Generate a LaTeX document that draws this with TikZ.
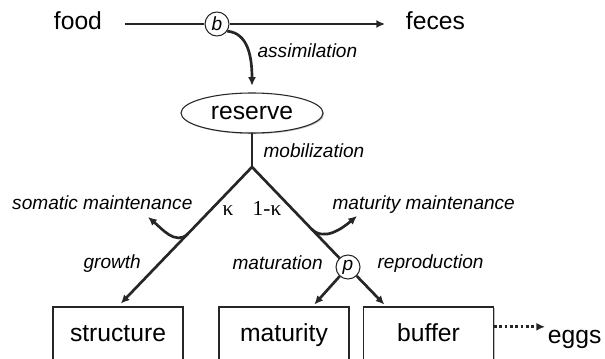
\documentclass[tikz,border=0pt]{standalone}
\usepackage{fontspec}
\setmainfont{Liberation Sans}
\newfontfamily\kapfont{Liberation Serif}
\usetikzlibrary{arrows.meta,shapes.geometric,shadows}

\begin{document}
\begin{tikzpicture}[
		x=0.75pt, y=0.75pt,
		word/.style={inner sep=2pt, font=\fontsize{18.5}{22}\selectfont},
		lab/.style={inner sep=1pt, font=\fontsize{14.3}{17}\selectfont\itshape},
		frac/.style={inner sep=1pt, font=\fontsize{16}{19}\kapfont},
		store/.style={rectangle, draw=black!85, line width=0.8pt, fill=white,
		minimum width=97.5pt, minimum height=42pt, text height=13.5pt, text depth=3.7pt,
		drop shadow={shadow xshift=0.8pt, shadow yshift=-0.8pt, fill=black!50},
		font=\fontsize{18.5}{22}\selectfont},
		pool/.style={ellipse, draw=black!85, line width=0.8pt, fill=white,
		inner sep=0pt, minimum width=106.5pt, minimum height=30pt,
		drop shadow={shadow xshift=0.8pt, shadow yshift=-0.8pt, fill=black!50},
		font=\fontsize{18.5}{22}\selectfont},
		switch/.style={circle, draw=black!85, line width=0.8pt, fill=white,
		inner sep=0pt, minimum size=18pt, font=\fontsize{14.3}{17}\selectfont\itshape},
		flow/.style={>={Latex[length=6.5pt,width=6pt]}, draw=black!85, line width=2pt, ->}
		]
		\useasboundingbox (0,0) rectangle (605,358);
		% input side
		\node[word, anchor=base west] (food) at (51,329) {food};
		\node[word, anchor=base west] (feces) at (403,329) {feces};
		\node[switch] (b) at (217,334) {b};
		\node[pool] (reserve) at (252,245) {reserve};
		\draw[flow, -, shorten <=15pt] (b -| food.east) -- (b.west);
		\draw[flow, shorten >=13.5pt] (b.east) -- (b -| feces.west);
		\draw[flow, shorten >=5pt] (b.-35) to[out=-5, in=90, out looseness=0.8,
			in looseness=1.4] (reserve.north);
		\node[lab, anchor=base west] (assim) at (256,301) {assimilation};
		% state variables
		\node[store] (structure) at (118,23) {structure};
		\node[store] (maturity) at (284,23) {maturity};
		\node[store] (buffer) at (428.5,23) {buffer};
		\node[word, anchor=base west] (eggs) at (545,15) {eggs};
		% kappa rule
		\coordinate (junc) at (252,191);
		\node[switch] (p) at (348,91) {p};
		\draw[flow, -, line cap=round] (reserve.south) -- (junc);
		\node[lab, anchor=base west] (mobil) at (262,201) {mobilization};
		\draw[flow, shorten >=3pt] (junc) -- coordinate[pos=0.48] (som) 
			(structure.north);
		\draw[flow, -] (junc) -- coordinate[pos=0.68] (mat) (p);
		\coordinate (somend) at (148,141);
		\coordinate (matend) at (357,142);
		\draw[flow] (som) to[out=225, in=-40] (somend);
		\draw[flow] (mat) to[out=-45, in=220] (matend);
		\draw[flow, shorten >=2pt] (p) -- (maturity.45);
		\draw[flow, shorten >=2pt] (p) -- (buffer.146);
		\draw[flow, dotted] (buffer.east |- eggs.north) -- (eggs.north west);
		% labels
		\node[frac, anchor=base] (kap) at (228,143) {κ};
		\node[frac, anchor=base] (onekap) at (267,143) {1-κ};
		\node[lab, anchor=base east] (somlab) at (194,149) {somatic maintenance};
		\node[lab, anchor=base west] (matlab) at (331,149) {maturity maintenance};
		\node[lab, anchor=base west] (grow) at (82,90) {growth};
		\node[lab, anchor=base west] (matur) at (231,89) {maturation};
		\node[lab, anchor=base west] (repro) at (376,90) {reproduction};
	\end{tikzpicture}
\end{document}
